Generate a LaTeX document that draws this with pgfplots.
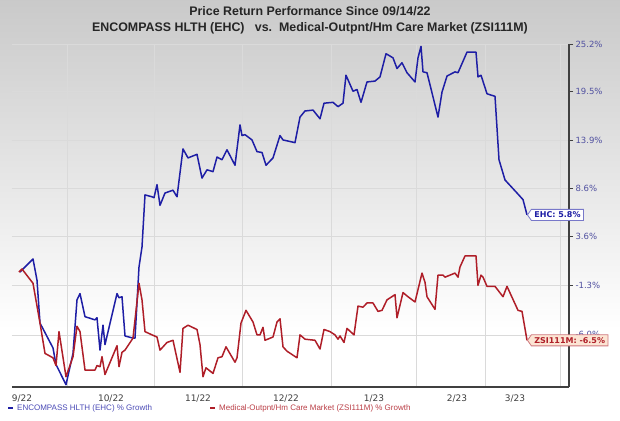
\documentclass[border=0pt]{standalone}
\usepackage{pgfplots}
\pgfplotsset{compat=1.18}
\usepackage{pgfplotstable}
\usepackage{fontspec}
\setmainfont{Liberation Sans}
\newfontfamily\verd{DejaVu Sans}
\usetikzlibrary{shapes.symbols}

\definecolor{ehc}{RGB}{30,30,165}
\definecolor{zsi}{RGB}{175,30,40}
\definecolor{ticklab}{RGB}{80,80,160}
\definecolor{gridc}{RGB}{218,218,218}

% x = horizontal position, g = growth in % since 09/14/22
\pgfplotstableread{
x g
20 0.0
33 1.3
37 -0.8
40 -4.9
53 -7.2
56 -8.7
66 -10.5
73 -7.7
77 -2.7
80 -2.1
85 -4.3
95 -4.6
97 -4.4
100 -7.4
103 -5.1
105 -6.9
117 -2.1
119 -2.5
122 -2.4
125 -6.1
133 -6.3
135 -6.3
139 0.5
142 2.5
145 7.9
152 7.7
154 7.6
157 9.0
160 6.8
165 8.1
173 8.4
177 7.7
183 12.9
188 11.9
197 12.3
202 9.7
207 10.6
213 10.4
217 12.0
222 11.7
227 12.8
235 11.1
240 15.6
242 14.4
245 14.5
252 13.9
257 12.6
262 12.5
266 11.1
273 11.9
280 14.4
283 13.9
295 13.6
300 16.5
305 17.2
313 17.3
320 16.3
324 18.1
333 18.2
338 17.7
343 18.1
346 21.4
353 19.5
357 19.7
361 18.2
367 20.6
375 20.7
380 21.2
386 24.0
393 23.5
397 22.2
402 22.9
407 21.7
415 20.6
418 23.5
421 24.9
423 21.8
427 21.7
438 16.5
442 19.4
447 21.3
455 21.8
458 21.7
467 24.2
476 24.2
478 21.2
481 21.4
487 19.2
495 18.9
499 11.7
505 9.5
517 8.1
523 7.4
527 5.8
}\ehcdata

\pgfplotstableread{
x g
19 0.0
22 0.3
33 -1.1
40 -4.9
45 -7.7
53 -8.1
56 -8.8
59 -5.7
66 -9.8
73 -8.0
77 -5.2
80 -5.7
85 -9.2
95 -9.2
97 -8.8
100 -8.9
102 -8.0
105 -9.6
117 -7.0
119 -8.9
122 -7.6
125 -7.4
133 -6.3
139 -1.1
142 -2.7
145 -5.7
152 -6.0
157 -6.2
160 -7.4
167 -6.7
173 -6.5
180 -9.4
183 -5.4
188 -5.1
197 -5.5
200 -6.9
203 -9.8
206 -9.0
213 -9.5
218 -8.1
222 -8.0
226 -7.1
235 -8.5
237 -8.1
241 -4.9
246 -3.7
253 -4.8
257 -6.0
260 -6.0
263 -5.3
265 -6.5
273 -6.2
277 -4.8
280 -4.5
283 -7.1
287 -7.5
297 -8.1
300 -6.0
305 -6.4
315 -6.5
320 -7.3
324 -5.5
330 -5.7
335 -6.0
338 -6.4
340 -6.1
344 -6.7
347 -5.4
354 -6.0
358 -3.3
363 -3.4
367 -3.0
373 -3.0
378 -3.8
382 -3.7
387 -2.7
395 -2.2
397 -4.4
403 -2.0
408 -2.4
415 -2.9
422 -0.1
425 -1.0
427 -2.4
435 -3.6
438 -0.3
443 -0.3
445 -0.5
455 -0.1
458 -0.5
460 0.5
465 1.6
476 1.6
478 -1.3
481 -0.3
483 -0.5
487 -1.4
495 -1.4
503 -2.4
507 -1.4
518 -3.7
522 -3.8
527 -6.5
}\zsidata

\begin{document}
\begin{tikzpicture}
\path[use as bounding box] (0,0) rectangle (620pt,420pt);
\fill[white] (0,0) rectangle (620pt,420pt);
\shade[top color=black!21, bottom color=white] (0,90pt) rectangle (620pt,420pt);

\begin{axis}[
    at={(12pt,33pt)}, anchor=south west,
    scale only axis, width=557pt, height=343pt,
    xmin=12, xmax=569,
    ymode=log, ymin=89.3, ymax=125.2,
    axis x line*=bottom, axis y line*=right,
    axis line style={line width=1.8pt, black!75},
    xtick={22,111,198,286,374,457,515},
    xticklabels={9/22,10/22,11/22,12/22,1/23,2/23,3/23},
    minor xtick={67,154,242,331,416,485,560},
    xtick style={draw=none},
    minor tick length=0pt,
    xminorgrids=true,
    minor grid style={gridc, line width=0.7pt},
    ytick={125.2,119.5,113.9,108.6,103.6,98.7,94.0},
    yticklabels={25.2\%,19.5\%,13.9\%,8.6\%,3.6\%,-1.3\%,-6.0\%},
    ymajorgrids=true,
    major grid style={gridc, line width=0.7pt},
    ytick style={black!75, line width=0.7pt},
    tick align=outside, major tick length=4pt,
    yticklabel style={font=\verd\fontsize{8.5}{10}\selectfont, text=ticklab, xshift=-1pt},
    xticklabel style={font=\verd\fontsize{9}{10}\selectfont, text=black!75},
]
\addplot[ehc, line width=1.5pt, line join=round] table[x=x, y expr=100+\thisrow{g}] {\ehcdata};
\addplot[zsi, line width=1.5pt, line join=round] table[x=x, y expr=100+\thisrow{g}] {\zsidata};
\coordinate (ehcend) at (axis cs:527,105.8);
\coordinate (zsiend) at (axis cs:527,93.5);
\end{axis}

\node[signal, signal to=west, signal pointer angle=110, draw=ehc!60, fill=white,
      line width=0.8pt, text=ehc, font=\verd\bfseries\fontsize{8}{9}\selectfont,
      inner xsep=3pt, inner ysep=2.5pt, anchor=west] at (ehcend) {EHC: 5.8\%};
\node[signal, signal to=west, signal pointer angle=110, draw=zsi!60, fill={rgb,255:red,252;green,229;blue,212},
      line width=0.8pt, text=zsi, font=\verd\bfseries\fontsize{8}{9}\selectfont,
      inner xsep=3pt, inner ysep=2.5pt, anchor=west] at (zsiend) {ZSI111M: -6.5\%};

\node[text=black!85, font=\bfseries\fontsize{12.4}{14}\selectfont] at (310pt,409pt)
  {Price Return Performance Since 09/14/22};
\node[text=black!85, font=\bfseries\fontsize{12.4}{14}\selectfont] at (310pt,392pt)
  {ENCOMPASS HLTH (EHC)\ \ \ vs.\ \ Medical-Outpnt/Hm Care Market (ZSI111M)};

\fill[ehc] (8pt,11pt) rectangle (13pt,13pt);
\node[anchor=west, text=ehc!80, font=\fontsize{8}{9}\selectfont, inner sep=0pt] at (17pt,12pt)
  {ENCOMPASS HLTH (EHC) \% Growth};
\fill[zsi] (210pt,11pt) rectangle (215pt,13pt);
\node[anchor=west, text=zsi!85, font=\fontsize{8}{9}\selectfont, inner sep=0pt] at (219pt,12pt)
  {Medical-Outpnt/Hm Care Market (ZSI111M) \% Growth};
\end{tikzpicture}
\end{document}
